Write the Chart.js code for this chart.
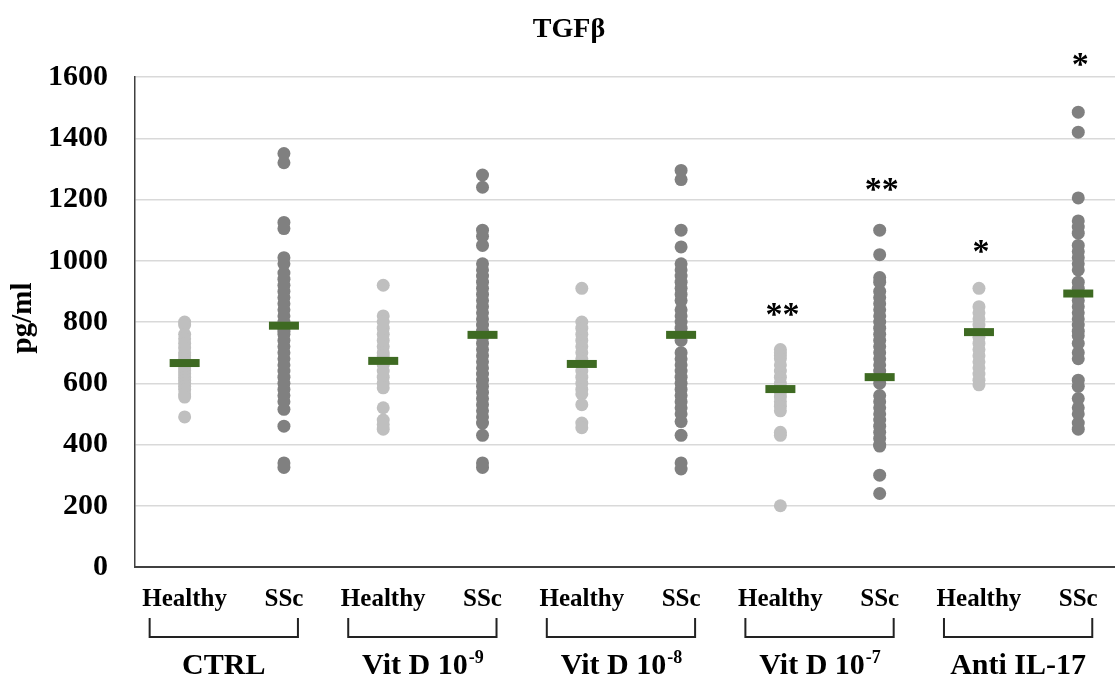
<!DOCTYPE html>
<html>
<head>
<meta charset="utf-8">
<script src="https://cdn.jsdelivr.net/npm/chart.js@4.4.0/dist/chart.umd.min.js"></script>
<style>
html, body { margin: 0; padding: 0; background: #fff; }
</style>
</head>
<body>
<canvas id="myChart" width="1115" height="676"></canvas>
<script>
// categories
var subLabels = ["Healthy", "SSc", "Healthy", "SSc", "Healthy", "SSc", "Healthy", "SSc", "Healthy", "SSc"];
var groupNames = ["CTRL", "Vit D 10", "Vit D 10", "Vit D 10", "Anti IL-17"];
var groupSup = ["", "-9", "-8", "-7", ""];
var yTicks = [0, 200, 400, 600, 800, 1000, 1200, 1400, 1600];

// pg/ml values
var healthyCtrl = [800, 790, 760, 745, 730, 715, 700, 690, 680, 670, 660, 650, 640, 630, 620, 610, 600, 590, 580, 565, 555, 490];
var sscCtrl = [1350, 1320, 1125, 1105, 1010, 990, 960, 940, 920, 900, 880, 860, 840, 820, 800, 790, 780, 770, 760, 740, 720, 700, 680, 660, 640, 620, 600, 580, 560, 540, 515, 460, 340, 325];
var healthyVd9 = [920, 820, 800, 780, 760, 740, 720, 700, 690, 680, 660, 640, 620, 600, 585, 520, 480, 465, 450];
var sscVd9 = [1280, 1240, 1100, 1080, 1050, 990, 970, 950, 930, 910, 890, 870, 850, 830, 810, 790, 770, 750, 730, 710, 690, 670, 650, 630, 610, 590, 570, 550, 530, 510, 490, 470, 430, 340, 325];
var healthyVd8 = [910, 800, 780, 760, 740, 720, 700, 680, 670, 660, 640, 620, 600, 580, 565, 530, 470, 455];
var sscVd8 = [1295, 1265, 1100, 1045, 990, 970, 950, 930, 910, 890, 870, 840, 820, 800, 780, 760, 740, 700, 680, 660, 640, 620, 600, 580, 560, 540, 520, 500, 475, 430, 340, 320];
var healthyVd7 = [710, 700, 690, 680, 660, 640, 620, 600, 585, 570, 555, 540, 525, 510, 440, 430, 200];
var sscVd7 = [1100, 1020, 945, 930, 900, 880, 860, 840, 820, 800, 780, 760, 740, 720, 700, 680, 660, 640, 620, 600, 560, 540, 520, 500, 480, 460, 440, 420, 400, 395, 300, 240];
var healthyIl17 = [910, 850, 830, 810, 790, 770, 750, 730, 710, 690, 670, 650, 630, 610, 595];
var sscIl17 = [1485, 1420, 1205, 1130, 1110, 1090, 1050, 1030, 1010, 990, 970, 930, 910, 890, 870, 850, 830, 810, 790, 770, 755, 730, 700, 680, 610, 590, 550, 520, 500, 470, 450];

var means = [666, 788, 673, 758, 663, 758, 581, 620, 767, 893];
var starText = ["", "", "", "", "", "", "**", "**", "*", "*"];
var starY = [null, null, null, null, null, null, 846, 1254, 1051, 1662];

var columns = [healthyCtrl, sscCtrl, healthyVd9, sscVd9, healthyVd8, sscVd8, healthyVd7, sscVd7, healthyIl17, sscIl17];

var healthyPts = [];
var sscPts = [];
columns.forEach(function(vals, i) {
  vals.forEach(function(v) {
    if (i % 2 == 0) healthyPts.push({x: i, y: v});
    else sscPts.push({x: i, y: v});
  });
});
var meanPts = means.map(function(m, i) { return {x: i, y: m}; });

var serif = "'Liberation Serif', 'Times New Roman', serif";

var extras = {
  id: "extras",
  afterDraw: function(chart) {
    var ctx = chart.ctx;
    var xs = chart.scales.x;
    var ys = chart.scales.y;
    ctx.save();
    ctx.fillStyle = "#000";
    ctx.textAlign = "center";
    ctx.textBaseline = "middle";

    // title
    ctx.font = "bold 28px " + serif;
    ctx.fillText("TGF\u03b2", 569, 30);

    // y axis title
    ctx.save();
    ctx.translate(24, 318);
    ctx.rotate(-Math.PI / 2);
    ctx.font = "bold 29px " + serif;
    ctx.fillText("pg/ml", 0, 0);
    ctx.restore();

    // significance stars
    ctx.font = "bold 34px " + serif;
    starText.forEach(function(s, i) {
      if (!s) return;
      ctx.fillText(s, xs.getPixelForValue(i) + 2, ys.getPixelForValue(starY[i]) + 8);
    });

    // brackets and group names
    ctx.strokeStyle = "#222";
    ctx.lineWidth = 2;
    groupNames.forEach(function(name, g) {
      var left = xs.getPixelForValue(2 * g) - 35;
      var right = xs.getPixelForValue(2 * g + 1) + 14;
      ctx.beginPath();
      ctx.moveTo(left, 618);
      ctx.lineTo(left, 637);
      ctx.lineTo(right, 637);
      ctx.lineTo(right, 618);
      ctx.stroke();

      var cx = (left + right) / 2;
      ctx.font = "bold 30px " + serif;
      var w = ctx.measureText(name).width;
      var sw = 0;
      if (groupSup[g]) {
        ctx.font = "bold 18px " + serif;
        sw = ctx.measureText(groupSup[g]).width;
      }
      var start = cx - (w + sw) / 2;
      ctx.textAlign = "left";
      ctx.textBaseline = "alphabetic";
      ctx.font = "bold 30px " + serif;
      ctx.fillText(name, start, 674);
      if (groupSup[g]) {
        ctx.font = "bold 18px " + serif;
        ctx.fillText(groupSup[g], start + w + 1, 663);
      }
      ctx.textAlign = "center";
      ctx.textBaseline = "middle";
    });
    ctx.restore();
  }
};

new Chart("myChart", {
  type: "scatter",
  data: {
    datasets: [
      {
        label: "Mean",
        data: meanPts,
        pointStyle: "line",
        pointRadius: 15,
        borderColor: "#3e6a22",
        borderWidth: 8,
        backgroundColor: "#3e6a22"
      },
      {
        label: "Healthy",
        data: healthyPts,
        pointRadius: 6.5,
        borderWidth: 0,
        backgroundColor: "#bfbfbf"
      },
      {
        label: "SSc",
        data: sscPts,
        pointRadius: 6.5,
        borderWidth: 0,
        backgroundColor: "#808080"
      }
    ]
  },
  options: {
    responsive: false,
    animation: false,
    events: [],
    layout: { autoPadding: false, padding: { top: 77, left: 0, right: 0, bottom: 0 } },
    plugins: {
      legend: { display: false },
      tooltip: { enabled: false },
      title: { display: false }
    },
    scales: {
      x: {
        type: "linear",
        min: -0.5,
        max: 9.37,
        afterBuildTicks: function(s) {
          s.ticks = subLabels.map(function(l, i) { return {value: i}; });
        },
        afterFit: function(s) {
          s.height = 109;
          s.paddingLeft = 0;
          s.paddingRight = 0;
        },
        grid: { display: false, drawTicks: false },
        border: { display: true, color: "#404040", width: 2 },
        ticks: {
          padding: 18,
          maxRotation: 0,
          autoSkip: false,
          color: "#000",
          font: { family: serif, size: 25, weight: "bold" },
          callback: function(v) { return subLabels[v]; }
        }
      },
      y: {
        min: 0,
        max: 1600,
        afterBuildTicks: function(s) {
          s.ticks = yTicks.map(function(v) { return {value: v}; });
        },
        afterFit: function(s) {
          s.width = 135;
          s.paddingTop = 0;
          s.paddingBottom = 0;
        },
        grid: { color: "#d9d9d9", lineWidth: 1.5, drawTicks: false },
        border: { display: true, color: "#404040", width: 1.5 },
        ticks: {
          padding: 27,
          color: "#000",
          font: { family: serif, size: 30, weight: "bold" },
          callback: function(v) { return String(v); }
        }
      }
    }
  },
  plugins: [extras]
});
</script>
</body>
</html>
